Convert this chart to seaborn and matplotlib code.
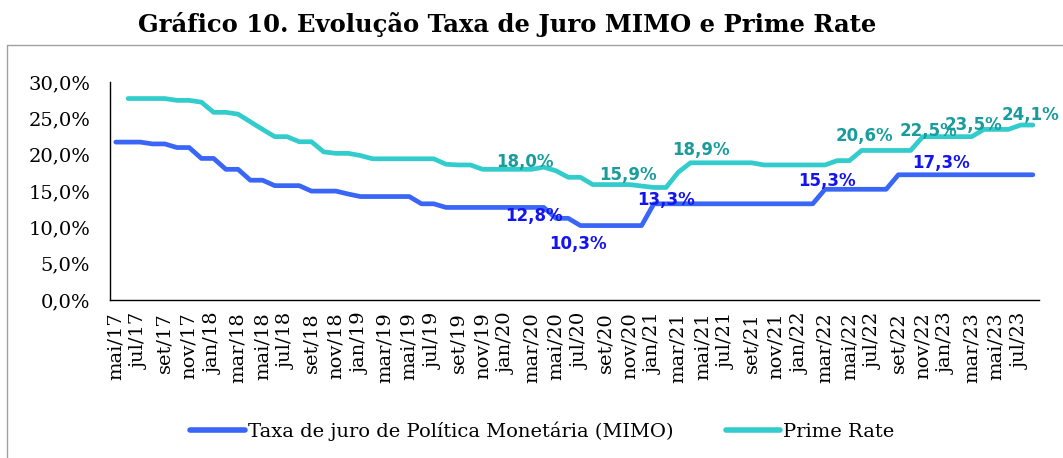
import numpy as np
import pandas as pd
import matplotlib
matplotlib.use("Agg")
import matplotlib.pyplot as plt
import seaborn as sns
from matplotlib.lines import Line2D
from matplotlib.ticker import FixedLocator, FuncFormatter

meses = [
    "mai/17", "jun/17", "jul/17", "ago/17", "set/17", "out/17", "nov/17", "dez/17",
    "jan/18", "fev/18", "mar/18", "abr/18", "mai/18", "jun/18", "jul/18", "ago/18",
    "set/18", "out/18", "nov/18", "dez/18",
    "jan/19", "fev/19", "mar/19", "abr/19", "mai/19", "jun/19", "jul/19", "ago/19",
    "set/19", "out/19", "nov/19", "dez/19",
    "jan/20", "fev/20", "mar/20", "abr/20", "mai/20", "jun/20", "jul/20", "ago/20",
    "set/20", "out/20", "nov/20", "dez/20",
    "jan/21", "fev/21", "mar/21", "abr/21", "mai/21", "jun/21", "jul/21", "ago/21",
    "set/21", "out/21", "nov/21", "dez/21",
    "jan/22", "fev/22", "mar/22", "abr/22", "mai/22", "jun/22", "jul/22", "ago/22",
    "set/22", "out/22", "nov/22", "dez/22",
    "jan/23", "fev/23", "mar/23", "abr/23", "mai/23", "jun/23", "jul/23", "ago/23",
]

mimo = [
    21.75, 21.75, 21.75, 21.5, 21.5, 21.0, 21.0, 19.5, 19.5, 18.0, 18.0, 16.5,
    16.5, 15.75, 15.75, 15.75, 15.0, 15.0, 15.0, 14.6, 14.25, 14.25, 14.25, 14.25,
    14.25, 13.25, 13.25, 12.75, 12.75, 12.75, 12.75, 12.75, 12.75, 12.75, 12.75, 12.75,
    11.25, 11.25, 10.25, 10.25, 10.25, 10.25, 10.25, 10.25, 13.25, 13.25, 13.25, 13.25,
    13.25, 13.25, 13.25, 13.25, 13.25, 13.25, 13.25, 13.25, 13.25, 13.25, 15.25, 15.25,
    15.25, 15.25, 15.25, 15.25, 17.25, 17.25, 17.25, 17.25, 17.25, 17.25, 17.25, 17.25,
    17.25, 17.25, 17.25, 17.25,
]

prime = [
    np.nan, 27.75, 27.75, 27.75, 27.75, 27.5, 27.5, 27.25, 25.85, 25.85, 25.6, 24.55,
    23.5, 22.5, 22.5, 21.8, 21.8, 20.4, 20.2, 20.2, 19.9, 19.45, 19.45, 19.45,
    19.45, 19.45, 19.45, 18.7, 18.6, 18.6, 18.0, 18.0, 18.0, 18.0, 18.0, 18.3,
    17.8, 16.9, 16.9, 15.9, 15.9, 15.9, 15.9, 15.7, 15.5, 15.5, 17.6, 18.9,
    18.9, 18.9, 18.9, 18.9, 18.9, 18.6, 18.6, 18.6, 18.6, 18.6, 18.6, 19.2,
    19.2, 20.6, 20.6, 20.6, 20.6, 20.6, 22.5, 22.5, 22.5, 22.5, 22.5, 23.5,
    23.5, 23.5, 24.1, 24.1,
]

series_names = ["Taxa de juro de Política Monetária (MIMO)", "Prime Rate"]

# data labels: (month index, text)
rotulos_mimo = [(34, "12,8%"), (38, "10,3%"), (45, "13,3%"), (58, "15,3%"), (67, "17,3%")]
rotulos_prime = [(33, "18,0%"), (42, "15,9%"), (48, "18,9%"), (61, "20,6%"),
                 (66, "22,5%"), (70, "23,5%"), (75, "24,1%")]
# label offsets in pixels
off_mimo = [(2, -9), (-2, -18), (0, 4), (2, 8), (6, 12)]
off_prime = [(6, 7), (-1, 10), (-2, 13), (3, 14), (6, 6), (2, 12), (-2, 10)]

cor_mimo = "#3A66F7"
cor_prime = "#33CCCC"
cor_txt_mimo = "#1414EE"
cor_txt_prime = "#1A9C9C"

sns.set_style("white")
plt.rcParams["font.family"] = ["DejaVu Serif"]
plt.rcParams["text.color"] = "black"
plt.rcParams["xtick.color"] = "black"
plt.rcParams["ytick.color"] = "black"

n = len(meses)
df = pd.concat([
    pd.DataFrame({"idx": np.arange(n), "valor": mimo, "serie": series_names[0]}),
    pd.DataFrame({"idx": np.arange(n), "valor": prime, "serie": series_names[1]}),
], ignore_index=True)

fig = plt.figure(figsize=(10.63, 4.58), dpi=100)
ax = fig.add_axes([0.1032, 0.345, 0.8742, 0.4755])

sns.lineplot(data=df, x="idx", y="valor", hue="serie",
             palette=[cor_mimo, cor_prime], linewidth=3.4, ax=ax, legend=False)
for ln in ax.lines:
    ln.set_solid_capstyle("round")
    ln.set_solid_joinstyle("round")

ax.set_xlim(-0.5, n - 0.5)
ax.set_ylim(0, 30)
ax.set_xlabel("")
ax.set_ylabel("")

ax.xaxis.set_major_locator(FixedLocator(np.arange(0, n, 2)))
ax.set_xticklabels(meses[::2], rotation=90, fontsize=14)
ax.xaxis.set_minor_locator(FixedLocator(np.arange(-0.5, n, 1)))
ax.tick_params(axis="x", which="major", length=0, pad=9)
ax.tick_params(axis="x", which="minor", length=4.5, width=1, direction="out", color="black")

ax.set_yticks(np.arange(0, 31, 5))
ax.yaxis.set_major_formatter(FuncFormatter(lambda v, p: f"{v:.1f}%".replace(".", ",")))
ax.tick_params(axis="y", length=0, pad=14, labelsize=14)

for s in ["top", "right"]:
    ax.spines[s].set_visible(False)
for s in ["left", "bottom"]:
    ax.spines[s].set_color("black")
    ax.spines[s].set_linewidth(1)

for (i, txt), (dx, dy) in zip(rotulos_mimo, off_mimo):
    ax.annotate(txt, xy=(i, mimo[i]), xytext=(dx, dy), textcoords="offset pixels",
                ha="center", va="center", fontsize=12, fontweight="bold",
                family="DejaVu Sans", color=cor_txt_mimo)
for (i, txt), (dx, dy) in zip(rotulos_prime, off_prime):
    ax.annotate(txt, xy=(i, prime[i]), xytext=(dx, dy), textcoords="offset pixels",
                ha="center", va="center", fontsize=12, fontweight="bold",
                family="DejaVu Sans", color=cor_txt_prime)

handles = [Line2D([], [], color=cor_mimo, lw=4, solid_capstyle="round"),
           Line2D([], [], color=cor_prime, lw=4, solid_capstyle="round")]
fig.legend(handles, series_names, loc="center", bbox_to_anchor=(0.51, 0.058),
           ncol=2, frameon=False, fontsize=14, handlelength=2.8,
           handletextpad=0.15, columnspacing=2.7)

fig.text(0.4774, 0.931, "Gráfico 10. Evolução Taxa de Juro MIMO e Prime Rate",
         ha="center", va="baseline", fontsize=17.5, fontweight="bold",
         family="DejaVu Serif", color="black")

# chart frame
fig.add_artist(Line2D([7 / 1063, 1.0], [1 - 45 / 458, 1 - 45 / 458],
                      transform=fig.transFigure, color="#A0A0A0", lw=1))
fig.add_artist(Line2D([7 / 1063, 7 / 1063], [0.0, 1 - 45 / 458],
                      transform=fig.transFigure, color="#A0A0A0", lw=1))

fig.savefig("out.png", dpi=100)
